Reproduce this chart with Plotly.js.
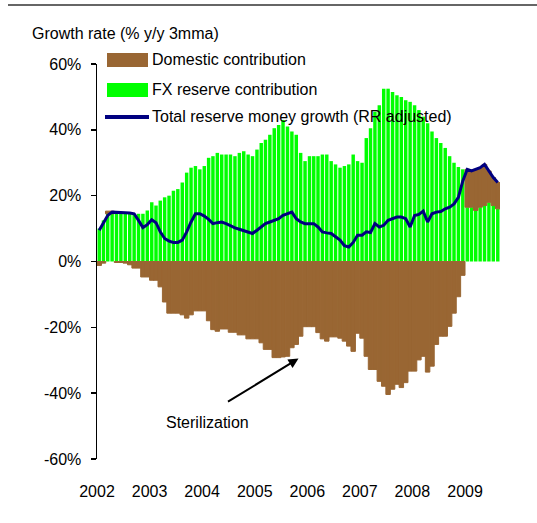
<!DOCTYPE html>
<html>
<head>
<meta charset="utf-8">
<script src="https://cdn.plot.ly/plotly-3.0.1.min.js"></script>
<style>html,body{margin:0;padding:0;background:#fff;}#chart{width:537px;height:523px;}</style>
</head>
<body>
<div id="chart"></div>
<script>
// Months (Jan 2002 - Aug 2009)
const months = [
  "2002-01","2002-02","2002-03","2002-04","2002-05","2002-06","2002-07","2002-08","2002-09","2002-10","2002-11","2002-12",
  "2003-01","2003-02","2003-03","2003-04","2003-05","2003-06","2003-07","2003-08","2003-09","2003-10","2003-11","2003-12",
  "2004-01","2004-02","2004-03","2004-04","2004-05","2004-06","2004-07","2004-08","2004-09","2004-10","2004-11","2004-12",
  "2005-01","2005-02","2005-03","2005-04","2005-05","2005-06","2005-07","2005-08","2005-09","2005-10","2005-11","2005-12",
  "2006-01","2006-02","2006-03","2006-04","2006-05","2006-06","2006-07","2006-08","2006-09","2006-10","2006-11","2006-12",
  "2007-01","2007-02","2007-03","2007-04","2007-05","2007-06","2007-07","2007-08","2007-09","2007-10","2007-11","2007-12",
  "2008-01","2008-02","2008-03","2008-04","2008-05","2008-06","2008-07","2008-08","2008-09","2008-10","2008-11","2008-12",
  "2009-01","2009-02","2009-03","2009-04","2009-05","2009-06","2009-07","2009-08"
];

// FX reserve contribution (%)
const fxContribution = [
  10, 12.5, 14.5, 14.5, 14.5, 14.5, 14.5, 14.5, 14.5, 14.5, 14.5, 15.5,
  18, 17, 18.5, 19.5, 20, 21.5, 22, 24, 27, 28.5, 29, 28,
  29, 31.5, 32, 33, 32.5, 32.5, 32.5, 32, 33, 33.5, 32.5, 32,
  34, 36, 37, 38.5, 40.5, 41.5, 43, 41, 39.5, 38.5, 33, 30.5,
  32, 32, 32, 32.5, 32.5, 30.5, 29.5, 28.5, 29, 29.5, 32.5, 30.5,
  30, 37.5, 40.5, 45.5, 47.5, 52.5, 52.5, 51.5, 50.5, 50, 49, 48.5,
  47.5, 46, 44, 42, 39.5, 37.5, 36, 34.5, 32, 30, 28.7, 28,
  16.5, 16.5, 15.5, 16.5, 17, 18, 17, 16
];

// Domestic contribution (%)
const domesticContribution = [
  -1.2, -0.5, 0.8, 0.8, -0.3, -0.3, -0.5, -1, -2, -2, -4.7, -4.7,
  -5.7, -5.7, -7.7, -12.3, -15.7, -15.7, -15.7, -16.2, -17.2, -16.2, -15, -15,
  -15, -18, -20.7, -21.2, -20.5, -20.5, -21.5, -21.5, -22.3, -22.3, -23.5, -23.5,
  -23.5, -24.7, -26.7, -26.7, -29.2, -29.2, -29, -28.8, -26.2, -25.2, -22.7, -19.8,
  -19.8, -19.8, -21.6, -23.5, -24.2, -22.9, -22.9, -23.3, -24.2, -25.7, -27.3, -21.8,
  -23.3, -28.8, -32.8, -32.8, -36.4, -37.9, -40.4, -38.8, -37.3, -38.3, -36.8, -33.3,
  -33.3, -29.9, -28.8, -33.6, -31.8, -25.2, -22.7, -22.7, -19.7, -15.7, -10.7, -4.2,
  11.5, 11, 12.5, 12, 12.5, 9.5, 8.5, 8
];

// Total reserve money growth (RR adjusted) (%)
const totalGrowth = [
  9.5, 12, 14, 15, 15, 14.8, 14.8, 14.7, 14.5, 12.5, 10.3, 11.2,
  12.7, 11.8, 9, 7, 6.2, 5.8, 5.8, 6.5, 9, 12, 14.5, 14.5,
  13.8, 12.8, 11.5, 11.8, 12, 11.5, 10.8, 10.2, 9.8, 9.4, 9, 8.5,
  9.5, 10.5, 11.5, 12, 12.5, 13, 14, 14.5, 15, 13, 12, 11.5,
  11.5, 11.5, 10.5, 9, 8.7, 8.5, 7.5, 6.5, 4.8, 4.4, 5.8, 8,
  8, 9, 8.8, 11.5, 10.5, 11, 12.5, 13, 13.5, 13.5, 13, 10.5,
  14, 14.3, 15.3, 12, 14.5, 15, 15.2, 16, 16.5, 17.5, 19.5, 24.5,
  28, 27.5, 28, 28.5, 29.5, 27.5, 25.5, 24
];

const yearTickVals = ["2002-01-01","2003-01-01","2004-01-01","2005-01-01","2006-01-01","2007-01-01","2008-01-01","2009-01-01"];
const yearTickText = ["2002","2003","2004","2005","2006","2007","2008","2009"];
const yTickVals = [60, 40, 20, 0, -20, -40, -60];
const yTickText = ["60%", "40%", "20%", "0%", "-20%", "-40%", "-60%"];

const seriesNames = ["Domestic contribution", "FX reserve contribution", "Total reserve money growth (RR adjusted)"];
const titleText = "Growth rate (% y/y 3mma)";
const noteText = "Sterilization";

const DAY = 86400000;
const BROWN = "#996633", GREEN = "#00FF00", NAVY = "#000080";
const FONT = "Liberation Sans, Arial, sans-serif";
const FS = 16;

const traces = [
  {
    type: "bar", x: months, y: fxContribution, name: seriesNames[1],
    xperiod: "M1", xperiodalignment: "middle",
    width: 24 * DAY, marker: {color: GREEN, line: {width: 0}}, hoverinfo: "skip"
  },
  {
    type: "bar", x: months, y: domesticContribution, name: seriesNames[0],
    xperiod: "M1", xperiodalignment: "middle",
    width: 31 * DAY, marker: {color: BROWN, line: {color: BROWN, width: 1}}, hoverinfo: "skip"
  },
  {
    type: "scatter", mode: "lines", x: months, y: totalGrowth, name: seriesNames[2],
    xperiod: "M1", xperiodalignment: "middle",
    line: {color: NAVY, width: 3}, hoverinfo: "skip"
  }
];

// paper coordinate helpers for the hand-drawn legend (plot area: left 97, top 64, 403x395)
const px = v => (v - 97) / 403;
const py = v => (459 - v) / 395;

const layout = {
  width: 537, height: 523,
  margin: {l: 97, r: 37, t: 64, b: 64, pad: 0},
  paper_bgcolor: "#fff", plot_bgcolor: "#fff",
  barmode: "relative",
  showlegend: false,
  font: {family: FONT, size: FS, color: "#000"},
  xaxis: {
    type: "date", range: ["2002-01-01", "2009-09-01"],
    tickvals: yearTickVals, ticktext: yearTickText,
    showline: false, showgrid: false, zeroline: false, ticks: "",
    ticklabelstandoff: 21, tickfont: {family: FONT, size: FS, color: "#000"},
    fixedrange: true
  },
  xaxis2: {
    type: "date", range: ["2002-01-01", "2009-09-01"],
    overlaying: "x", anchor: "free", position: 0.5,
    tickvals: yearTickVals, showticklabels: false,
    showline: true, linecolor: "#000", linewidth: 1.5,
    ticks: "outside", ticklen: 5, tickwidth: 1.5, tickcolor: "#000",
    showgrid: false, zeroline: false
  },
  yaxis: {
    range: [-60, 60], tickvals: yTickVals, ticktext: yTickText,
    showline: true, linecolor: "#000", linewidth: 1.5,
    ticks: "outside", ticklen: 5, tickwidth: 1.5, tickcolor: "#000",
    showgrid: false, zeroline: false, ticklabelstandoff: 6,
    tickfont: {family: FONT, size: FS, color: "#000"}
  },
  shapes: [
    // top rule
    {type: "line", xref: "paper", yref: "paper", x0: px(8), x1: px(537), y0: py(5), y1: py(5),
     line: {color: "#666", width: 2}},
    // legend swatches
    {type: "rect", xref: "paper", yref: "paper", x0: px(107), x1: px(148), y0: py(67), y1: py(53),
     fillcolor: BROWN, line: {width: 0}},
    {type: "rect", xref: "paper", yref: "paper", x0: px(107), x1: px(148), y0: py(97), y1: py(83),
     fillcolor: GREEN, line: {width: 0}},
    {type: "line", xref: "paper", yref: "paper", x0: px(105), x1: px(149), y0: py(117), y1: py(117),
     line: {color: NAVY, width: 4}}
  ],
  annotations: [
    {xref: "paper", yref: "paper", x: px(30), y: py(33), xanchor: "left", yanchor: "middle",
     text: titleText, showarrow: false, font: {family: FONT, size: FS, color: "#000"}},
    {xref: "paper", yref: "paper", x: px(150), y: py(60), xanchor: "left", yanchor: "middle",
     text: seriesNames[0], showarrow: false, font: {family: FONT, size: FS, color: "#000"}},
    {xref: "paper", yref: "paper", x: px(150), y: py(89), xanchor: "left", yanchor: "middle",
     text: seriesNames[1], showarrow: false, font: {family: FONT, size: FS, color: "#000"}},
    {xref: "paper", yref: "paper", x: px(150), y: py(116), xanchor: "left", yanchor: "middle",
     text: seriesNames[2], showarrow: false, font: {family: FONT, size: FS, color: "#000"}},
    {xref: "x", yref: "y", x: "2004-02-10", y: -49, xanchor: "center", yanchor: "middle",
     text: noteText, showarrow: false, font: {family: FONT, size: FS, color: "#000"}},
    {xref: "x", yref: "y", x: "2005-11-01", y: -29.5, text: "", showarrow: true,
     axref: "pixel", ayref: "pixel", ax: -72, ay: 44,
     arrowhead: 2, arrowsize: 1, arrowwidth: 2, arrowcolor: "#000"}
  ]
};

Plotly.newPlot("chart", traces, layout, {staticPlot: true, displayModeBar: false});
</script>
</body>
</html>
